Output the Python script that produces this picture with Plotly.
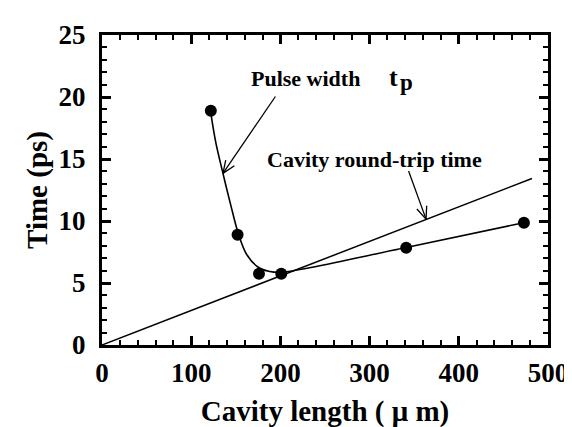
import math
import plotly.graph_objects as go

# Measured pulse width points (cavity length in um, time in ps)
pulse_x = [122, 152, 176, 201, 341, 473]
pulse_y = [18.9, 8.9, 5.75, 5.75, 7.85, 9.85]

# Smooth fitted curve
curve_x = [121.5, 127.5, 135.6, 144.7, 153.0, 162.2, 175.2, 188.1, 201.1, 341.1, 472.6]
curve_y = [18.94, 16.36, 13.84, 11.18, 8.94, 7.30, 6.27, 5.93, 5.87, 7.87, 9.86]

# Cavity round-trip time line
rt_x = [0, 482]
rt_y = [0, 13.43]

# Axis settings
x_range = [0, 500]
y_range = [0, 25]
x_ticks = [0, 100, 200, 300, 400, 500]
y_ticks = [0, 5, 10, 15, 20, 25]

# Annotation arrows: (tail, head) in data units
arrow_pw = ((194.4, 20.04), (135.6, 13.84))
arrow_rt = ((343.7, 14.03), (363.3, 10.15))

W, H = 572, 427
ML, MR, MT, MB = 94, 28, 22, 83
PW, PH = W - ML - MR, H - MT - MB
SX = PW / (x_range[1] - x_range[0])
SY = PH / (y_range[1] - y_range[0])

FONT = "Liberation Serif"


def arrow_lines(tail, head, wing=14, ang=22):
    (tx, ty), (hx, hy) = tail, head
    dx, dy = (tx - hx) * SX, (ty - hy) * SY
    n = math.hypot(dx, dy)
    ux, uy = dx / n, dy / n
    xs = [tx, hx, None]
    ys = [ty, hy, None]
    for s in (1, -1):
        a = math.radians(ang * s)
        rx = ux * math.cos(a) - uy * math.sin(a)
        ry = ux * math.sin(a) + uy * math.cos(a)
        xs += [hx, hx + rx * wing / SX, None]
        ys += [hy, hy + ry * wing / SY, None]
    return xs, ys


fig = go.Figure()

fig.add_trace(go.Scatter(x=rt_x, y=rt_y, mode="lines",
                         line=dict(color="black", width=1.5), hoverinfo="skip"))
fig.add_trace(go.Scatter(x=curve_x, y=curve_y, mode="lines",
                         line=dict(color="black", width=1.6, shape="spline", smoothing=1.0),
                         hoverinfo="skip"))
fig.add_trace(go.Scatter(x=pulse_x, y=pulse_y, mode="markers",
                         marker=dict(color="black", size=12)))
for tail, head in (arrow_pw, arrow_rt):
    ax, ay = arrow_lines(tail, head)
    fig.add_trace(go.Scatter(x=ax, y=ay, mode="lines",
                             line=dict(color="black", width=1.3), hoverinfo="skip"))
# invisible trace for the mirrored top/right axes
fig.add_trace(go.Scatter(x=rt_x, y=rt_y, xaxis="x2", yaxis="y2", mode="lines",
                         line=dict(color="rgba(0,0,0,0)"), hoverinfo="skip"))

fig.add_annotation(x=228.3, y=21.47, text="<b>Pulse width</b>", showarrow=False,
                   font=dict(family=FONT, size=22, color="black"))
fig.add_annotation(x=319.7, y=21.55, xanchor="left", text="<b>t</b>", showarrow=False,
                   font=dict(family=FONT, size=26, color="black"))
fig.add_annotation(x=331.5, y=21.2, xanchor="left", text="<b>p</b>", showarrow=False,
                   font=dict(family=FONT, size=23, color="black"))
fig.add_annotation(x=305, y=15.0, text="<b>Cavity round-trip time</b>", showarrow=False,
                   font=dict(family=FONT, size=22, color="black"))

tick_common = dict(
    showline=True, linecolor="black", linewidth=3,
    ticks="inside", tickcolor="black", tickwidth=2.5, ticklen=9,
    showgrid=False, zeroline=False,
)
label_font = dict(family=FONT, size=27, color="black", weight="bold")
title_font = dict(family=FONT, size=29, color="black", weight="bold")
minor_x = dict(ticks="inside", dtick=20, ticklen=5, tickwidth=2, tickcolor="black")
minor_y = dict(ticks="inside", dtick=1, ticklen=5, tickwidth=2, tickcolor="black")

fig.update_layout(
    width=W, height=H,
    margin=dict(l=ML, r=MR, t=MT, b=MB, pad=0),
    plot_bgcolor="white", paper_bgcolor="white",
    showlegend=False,
    font=dict(family=FONT, color="black"),
    xaxis=dict(range=x_range, tickvals=x_ticks, ticktext=[str(v) for v in x_ticks],
               tickfont=label_font, ticklabelstandoff=2,
               title=dict(text="Cavity length ( \u03bc m)", font=title_font, standoff=14),
               minor=minor_x, **tick_common),
    yaxis=dict(range=y_range, tickvals=y_ticks, ticktext=[str(v) for v in y_ticks],
               tickfont=label_font, ticklabelstandoff=8,
               title=dict(text="Time (ps)", font=title_font, standoff=3),
               minor=minor_y, **tick_common),
    xaxis2=dict(range=x_range, overlaying="x", side="top", tickvals=x_ticks,
                showticklabels=False, minor=minor_x, **tick_common),
    yaxis2=dict(range=y_range, overlaying="y", side="right", tickvals=y_ticks,
                showticklabels=False, minor=minor_y, **tick_common),
)

fig.write_html("out.html")
